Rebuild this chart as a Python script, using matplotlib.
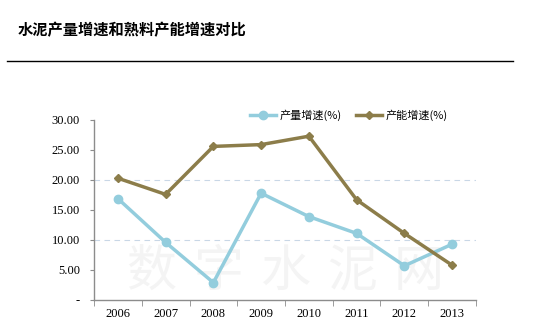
import matplotlib.pyplot as plt
from matplotlib.ticker import FixedLocator

plt.rcParams['font.family'] = ['Noto Sans CJK SC', 'DejaVu Sans']

years = ['2006', '2007', '2008', '2009', '2010', '2011', '2012', '2013']
output_growth = [16.9, 9.6, 2.9, 17.8, 13.9, 11.1, 5.7, 9.3]
capacity_growth = [20.3, 17.6, 25.6, 25.9, 27.3, 16.7, 11.1, 5.8]
y_ticks = [0, 5, 10, 15, 20, 25, 30]
y_labels = ['-', '5.00', '10.00', '15.00', '20.00', '25.00', '30.00']
watermark = '数字水泥网'

blue = '#93CDDD'
olive = '#8C7D4A'
axis_color = '#8C8C8C'

fig = plt.figure(figsize=(5.52, 3.34), dpi=100)
fig.text(18 / 552, 1 - 30 / 334, '水泥产量增速和熟料产能增速对比', fontsize=11,
         fontweight='bold', va='center', ha='left')
fig.add_artist(plt.Line2D([7 / 552, 513 / 552], [1 - 61 / 334, 1 - 61 / 334],
                          color='black', linewidth=1))

ax = fig.add_axes([94 / 552, 1 - 300 / 334, 382 / 552, 180 / 334])
x = list(range(len(years)))

# faint watermark, one glyph at a time so it spreads like the original
for i, ch in enumerate(watermark):
    ax.text(0.15 + i * 0.175, 0.155, ch, transform=ax.transAxes, fontsize=36,
            color='#F4F4F4', ha='center', va='center', zorder=0)

for yv in [10, 20]:
    ax.axhline(yv, color='#C9D7E6', linestyle=(0, (5, 4)), linewidth=0.8, zorder=1)

ax.plot(x, output_growth, color=blue, linewidth=2.5, marker='o', markersize=6,
        label='产量增速(%)', zorder=3)
ax.plot(x, capacity_growth, color=olive, linewidth=2.5, marker='D', markersize=4,
        label='产能增速(%)', zorder=3)

ax.set_xlim(-0.5, 7.5)
ax.set_ylim(0, 30)
ax.set_xticks(x)
ax.set_xticklabels(years, family='Liberation Serif', fontsize=9)
ax.xaxis.set_minor_locator(FixedLocator([i + 0.5 for i in range(-1, 8)]))
ax.tick_params(axis='x', which='major', length=0, pad=6)
ax.tick_params(axis='x', which='minor', length=4, color=axis_color)
ax.set_yticks(y_ticks)
ax.set_yticklabels(y_labels, family='Liberation Serif', fontsize=9)
ax.tick_params(axis='y', length=3, color=axis_color, pad=7)

for s in ['top', 'right']:
    ax.spines[s].set_visible(False)
for s in ['left', 'bottom']:
    ax.spines[s].set_color(axis_color)
    ax.spines[s].set_linewidth(1)

ax.legend(loc='center', bbox_to_anchor=(0.667, 1.028), ncol=2, frameon=False,
          fontsize=8, handlelength=2.4, columnspacing=1.25, handletextpad=0.3,
          borderpad=0, borderaxespad=0)

plt.savefig('out.png', dpi=100)
